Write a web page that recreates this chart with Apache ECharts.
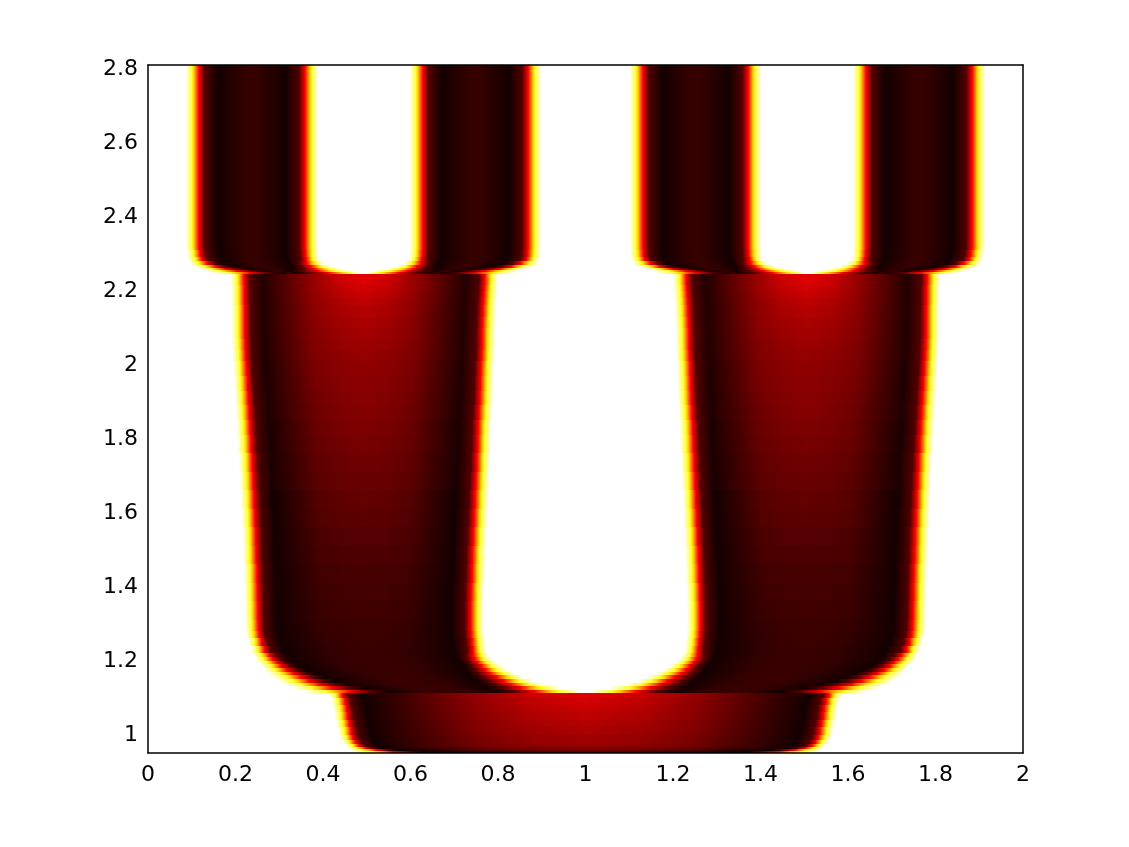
<!DOCTYPE html>
<html><head><meta charset="utf-8">
<style>html,body{margin:0;padding:0;background:#fff}#c{width:1129px;height:847px}</style>
<script src="https://cdn.jsdelivr.net/npm/echarts@6/dist/echarts.min.js"></script>
</head><body><div id="c"></div>
<script>
const xTicks=[0,0.2,0.4,0.6,0.8,1,1.2,1.4,1.6,1.8,2];
const yTicks=[1,1.2,1.4,1.6,1.8,2,2.2,2.4,2.6,2.8];
// horizontal strips of the field, top to bottom
const rowBounds=[2.8,2.3,2.28,2.27,2.26,2.25,2.245,2.24,2.235,
2.22,2.205,2.19,2.17,2.15,2.12,2.09,2.06,2.03,2,1.96,1.92,1.88,1.84,1.8,1.75,1.7,1.65,1.6,1.55,1.5,1.45,1.4,1.35,1.3,1.27,1.25,1.23,1.21,1.2,1.19,1.18,1.17,1.16,1.15,1.14,1.13,1.12,1.11,1.103,
1.09,1.07,1.05,1.03,1.01,.99,.975,.965,.955,.95,.945,.94];
// x of each white/dark boundary (yellow contour); dark lobes lie between pairs
const rowEdges=[
[.10,.375,.612,.885,1.115,1.388,1.625,1.90],
[.103,.376,.611,.884,1.116,1.389,1.624,1.897],
[.107,.378,.609,.881,1.119,1.391,1.622,1.893],
[.114,.384,.602,.873,1.127,1.398,1.616,1.886],
[.129,.398,.588,.856,1.144,1.412,1.602,1.871],
[.145,.413,.573,.835,1.165,1.427,1.587,1.855],
[.163,.428,.552,.812,1.188,1.448,1.572,1.837],
[.185,.46,.525,.80,1.20,1.475,1.54,1.815],
[.203,.786,1.214,1.797],[.203,.786,1.214,1.797],[.204,.785,1.215,1.796],[.204,.784,1.216,1.796],
[.204,.783,1.217,1.796],[.205,.782,1.218,1.795],[.205,.781,1.219,1.795],[.205,.78,1.22,1.795],
[.206,.78,1.22,1.794],[.207,.779,1.221,1.793],[.209,.777,1.223,1.791],[.211,.776,1.224,1.789],
[.213,.775,1.225,1.787],[.215,.773,1.227,1.785],[.217,.771,1.229,1.783],[.219,.77,1.23,1.781],
[.222,.768,1.232,1.778],[.224,.766,1.234,1.776],[.226,.764,1.236,1.774],[.228,.762,1.238,1.772],
[.23,.76,1.24,1.77],[.231,.758,1.242,1.769],[.233,.757,1.243,1.767],[.234,.755,1.245,1.766],
[.235,.754,1.246,1.765],[.236,.754,1.246,1.764],[.238,.755,1.245,1.762],[.243,.757,1.243,1.757],
[.25,.759,1.241,1.75],[.258,.763,1.237,1.742],[.264,.768,1.232,1.736],[.272,.776,1.224,1.728],
[.28,.786,1.214,1.72],[.29,.798,1.202,1.71],[.302,.812,1.188,1.698],[.316,.83,1.17,1.684],
[.332,.85,1.15,1.668],[.35,.872,1.128,1.65],[.372,.90,1.10,1.628],[.405,.94,1.06,1.595],
[.428,1.572],[.434,1.566],[.438,1.562],[.44,1.56],[.444,1.556],[.448,1.552],
[.452,1.548],[.458,1.542],[.466,1.534],[.476,1.524],[.49,1.51],[.51,1.49]];
// field level inside the lobes: darkest trough, halfway to centre, lobe centre
const rowDarkest=[.03,.03,.03,.03,.03,.03,.03,.03,
.05,.05,.05,.05,.05,.05,.05,.05,.05,.05,.045,.045,.045,.045,.04,.04,.04,.04,.03,.03,.03,.03,.03,.03,.03,.03,.03,.03,.03,.03,.03,.03,.03,.03,.03,.03,.03,.03,.03,.03,
.03,.03,.03,.03,.03,.03,.03,.03,.03,.03,.02,.02];
const rowQuarter=[.06,.06,.06,.06,.06,.06,.06,.06,
.22,.22,.22,.215,.21,.205,.2,.195,.19,.185,.18,.175,.165,.16,.155,.15,.14,.135,.125,.12,.11,.105,.095,.09,.085,.08,.075,.075,.07,.07,.07,.07,.07,.07,.07,.07,.07,.07,.07,.07,
.215,.21,.205,.2,.195,.19,.18,.18,.17,.15,.13,.09];
const rowPeak=[.08,.08,.08,.08,.08,.08,.08,.08,
.34,.325,.31,.295,.28,.265,.25,.24,.23,.22,.21,.205,.20,.195,.185,.175,.165,.155,.145,.135,.125,.115,.105,.10,.095,.09,.09,.088,.085,.085,.085,.085,.085,.085,.085,.085,.085,.085,.085,.085,
.33,.31,.295,.28,.265,.25,.235,.235,.22,.2,.17,.12];
// horizontal softness of the contour (shallow contours look wider)
const rowSoft=[1,1,1,1.3,1.6,2,2.5,3,
1,1,1,1,1,1,1,1,1,1,1,1,1,1,1,1,1,1,1,1,1,1,1,1,1,1,1,1,1,1.2,1.3,1.4,1.5,1.7,1.9,2.1,2.3,2.6,3,3.5,
1,1,1,1,1,1,1,1,1,1.3,2,3];

function hot(v){
  const c=t=>Math.round(255*Math.max(0,Math.min(1,t)));
  return 'rgb('+c(v/.375)+','+c((v-.375)/.375)+','+c((v-.75)/.25)+')';
}
function rowStops(i,xMin,xMax){
  const e=rowEdges[i],s=rowSoft[i],d=rowDarkest[i],q=rowQuarter[i],p=rowPeak[i];
  const st=[[xMin,1]];
  for(let k=0;k<e.length;k+=2){
    const a=e[k],b=e[k+1],m=(a+b)/2,t=.06*Math.max(1,s*.7);
    const ta=a+t,tb=b-t,h=q+(p-q)*.7;
    st.push([a-.014*s,1],[a,.8],[a+.005*s,.68],[a+.016*s,.375],[a+.03*s,.12],[ta,d],[(ta+m)/2,q],[ta+(m-ta)*.75,h],[m,p],
            [tb+(m-tb)*.75,h],[(tb+m)/2,q],[tb,d],[b-.03*s,.12],[b-.016*s,.375],[b-.005*s,.68],[b,.8],[b+.014*s,1]);
  }
  st.push([xMax,1]);
  return st.map(o=>({offset:Math.max(0,Math.min(1,(o[0]-xMin)/(xMax-xMin))),color:hot(o[1])})).sort((u,w)=>u.offset-w.offset);
}
const XMIN=0,XMAX=2,YMIN=.94,YMAX=2.8;
const rows=rowEdges.map((_,i)=>[i,rowBounds[i]]);
const chart=echarts.init(document.getElementById('c'),null,{renderer:'canvas'});
const lab={color:'#000',fontFamily:'DejaVu Sans',fontSize:22};
const frame={show:true,onZero:false,lineStyle:{color:'#000',width:1.5}};
chart.setOption({
  animation:false,backgroundColor:'#fff',
  grid:{left:148,top:65,width:875,height:688,containLabel:false},
  xAxis:[
    {type:'value',min:XMIN,max:XMAX,interval:.2,position:'bottom',z:10,splitLine:{show:false},axisTick:{show:false},
     axisLine:frame,axisLabel:{...lab,margin:11,customValues:xTicks,showMinLabel:true,showMaxLabel:true}},
    {type:'value',min:XMIN,max:XMAX,position:'top',z:10,splitLine:{show:false},axisTick:{show:false},axisLabel:{show:false},axisLine:frame}],
  yAxis:[
    {type:'value',min:YMIN,max:YMAX,position:'left',z:10,splitLine:{show:false},axisTick:{show:false},
     axisLine:frame,axisLabel:{...lab,margin:10,customValues:yTicks,showMinLabel:true,showMaxLabel:true,
       formatter:v=>'{a|'+v+'}',rich:{a:{fontFamily:'DejaVu Sans',fontSize:22,color:'#000',padding:[9,0,0,0]}}}},
    {type:'value',min:YMIN,max:YMAX,position:'right',z:10,splitLine:{show:false},axisTick:{show:false},axisLabel:{show:false},axisLine:frame}],
  series:[{type:'custom',coordinateSystem:'cartesian2d',xAxisIndex:0,yAxisIndex:0,clip:true,silent:true,
    data:rows,encode:{x:0,y:1},
    renderItem(params,api){
      const i=api.value(0);
      const p0=api.coord([XMIN,rowBounds[i]]),p1=api.coord([XMAX,rowBounds[i+1]]);
      const y0=Math.round(p0[1]),y1=Math.round(p1[1]);
      return {type:'rect',shape:{x:p0[0],y:y0,width:p1[0]-p0[0],height:y1-y0},
        style:{fill:new echarts.graphic.LinearGradient(0,0,1,0,rowStops(i,XMIN,XMAX))}};
    }}]
});
</script></body></html>
